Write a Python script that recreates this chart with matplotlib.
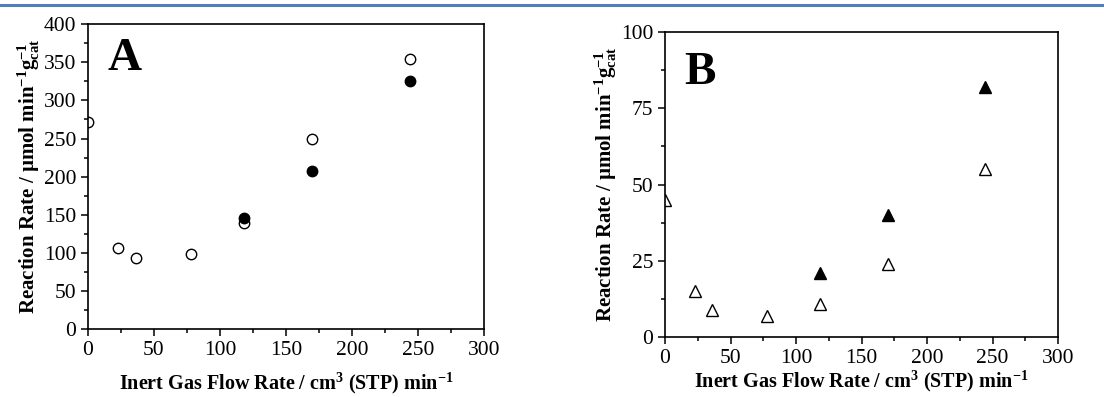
import numpy as np
import matplotlib.pyplot as plt
from matplotlib.ticker import MultipleLocator
from matplotlib.lines import Line2D

plt.rcParams['font.family'] = ['Liberation Serif', 'DejaVu Serif']
plt.rcParams['mathtext.fontset'] = 'custom'
plt.rcParams['mathtext.rm'] = 'Liberation Serif:bold'
plt.rcParams['mathtext.bf'] = 'Liberation Serif:bold'
plt.rcParams['mathtext.it'] = 'Liberation Serif:bold'

# panel A: circles
flow_a_open = [0, 23, 36, 78, 118, 170, 244]
rate_a_open = [272, 107, 93, 98, 139, 250, 354]
flow_a_full = [118, 170, 244]
rate_a_full = [146, 208, 325]

# panel B: triangles
flow_b_open = [0, 23, 36, 78, 118, 170, 244]
rate_b_open = [45, 15, 9, 7, 11, 24, 55]
flow_b_full = [118, 170, 244]
rate_b_full = [21, 40, 82]

ylab = 'Reaction Rate / µmol min$^{-1}$g$_{cat}^{-1}$'
xlab = 'Inert Gas Flow Rate / cm$^{3}$ (STP) min$^{-1}$'

fig = plt.figure(figsize=(11.04, 3.97), dpi=100)
# blue rule at the top of the page
fig.add_artist(Line2D([0, 1], [0.988, 0.988], color='#4f7fbf', lw=2.2, transform=fig.transFigure))

axA = fig.add_axes([0.0797, 0.171, 0.3587, 0.768])
axB = fig.add_axes([0.6024, 0.151, 0.356, 0.768])

axA.plot(flow_a_open, rate_a_open, 'o', ms=7.5, mfc='white', mec='black', mew=1.0)
axA.plot(flow_a_full, rate_a_full, 'o', ms=7.5, mfc='black', mec='black', zorder=3)
axA.set_ylim(0, 400)
axA.yaxis.set_major_locator(MultipleLocator(50))
axA.yaxis.set_minor_locator(MultipleLocator(25))

axB.plot(flow_b_open, rate_b_open, '^', ms=8, mfc='white', mec='black', mew=1.0)
axB.plot(flow_b_full, rate_b_full, '^', ms=8, mfc='black', mec='black', zorder=3)
axB.set_ylim(0, 100)
axB.yaxis.set_major_locator(MultipleLocator(25))
axB.yaxis.set_minor_locator(MultipleLocator(12.5))

for ax, letter, ly, lpad in [(axA, 'A', 0.885, 8), (axB, 'B', 0.865, 1)]:
    ax.set_xlim(0, 300)
    ax.xaxis.set_major_locator(MultipleLocator(50))
    ax.xaxis.set_minor_locator(MultipleLocator(25))
    ax.tick_params(which='both', direction='out', top=False, right=False, labelsize=15.5, width=1.1)
    ax.tick_params(which='major', length=5)
    ax.tick_params(which='minor', length=3)
    for s in ax.spines.values():
        s.set_linewidth(1.2)
    ax.set_xlabel(xlab, fontsize=14.5, fontweight='bold', labelpad=lpad)
    ax.set_ylabel(ylab, fontsize=15, fontweight='bold', labelpad=1)
    ax.text(0.05, ly, letter, transform=ax.transAxes, fontsize=34, fontweight='bold', va='center')

fig.savefig('out.png', dpi=100)
